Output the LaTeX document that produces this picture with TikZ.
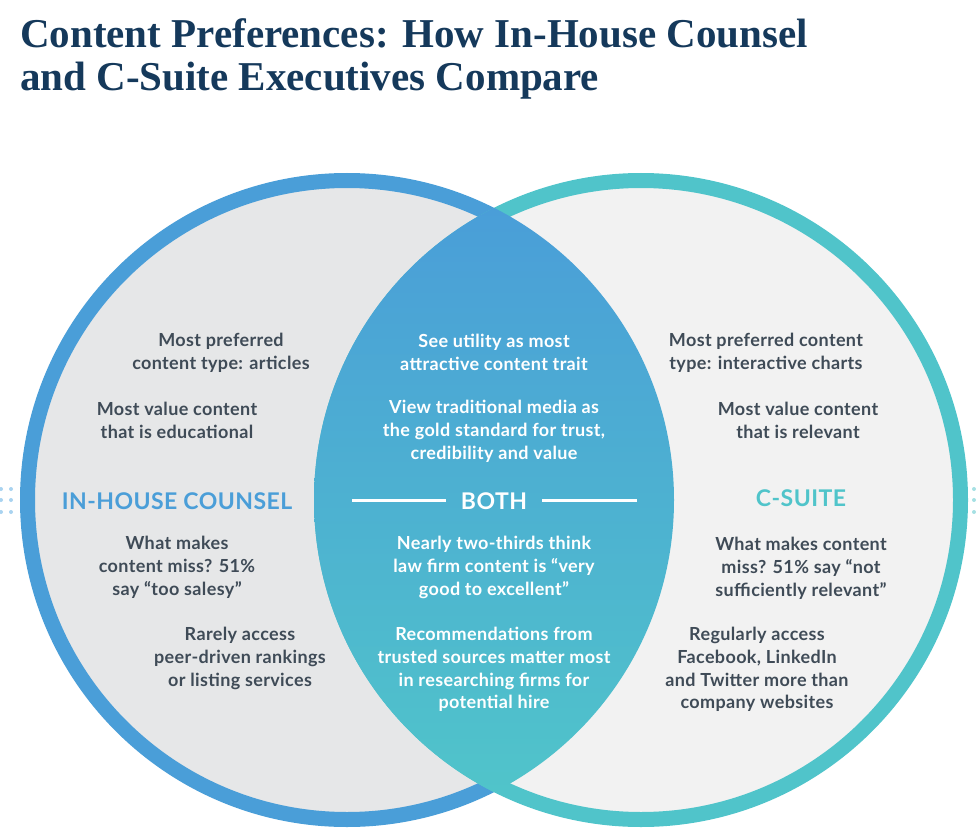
\documentclass[tikz,border=0pt]{standalone}
\usepackage{fontspec}
\setmainfont{Lato}
\newfontfamily\factfont[LetterSpace=2]{Lato}
\newfontfamily\titlefont{Liberation Serif}
\usetikzlibrary{positioning}

\definecolor{inhouse}{HTML}{4A9ED8}
\definecolor{csuite}{HTML}{50C4CA}
\definecolor{fillleft}{HTML}{E6E7E8}
\definecolor{fillright}{HTML}{F2F2F2}
\definecolor{factgray}{HTML}{3F4B57}
\definecolor{titlenavy}{HTML}{15395B}
\definecolor{dotleft}{HTML}{A9D3F0}
\definecolor{dotright}{HTML}{A6E0E3}

\tikzset{
  titletext/.style={anchor=base west, text=titlenavy, inner sep=0pt,
    font=\titlefont\fontsize{41}{46}\selectfont\bfseries},
  fact/.style={align=center, text=factgray, inner sep=0pt,
    font=\factfont\fontsize{18}{22.7}\selectfont\bfseries},
  bothfact/.style={fact, text=white},
  header/.style={inner sep=0pt, font=\factfont\fontsize{23}{27}\selectfont\bfseries},
  ring/.style={line width=15pt},
  bothline/.style={white, line width=3pt},
}

\begin{document}
\begin{tikzpicture}[x=1pt,y=-1pt]
\useasboundingbox (0,0) rectangle (980,840);

% Title
\node[titletext] (title1) at (20,48) {Content Preferences: How In-House Counsel};
\node[titletext] (title2) at (20,91) {and C-Suite Executives Compare};

% Two circles, ring width 15
\def\rad{319.5pt}
\filldraw[ring, fill=fillleft, draw=inhouse] (347,500) circle[radius=\rad];
\filldraw[ring, fill=fillright, draw=csuite] (641,500) circle[radius=\rad];

% Overlap, shaded blue to teal
\begin{scope}
  \clip (347,500) circle[radius=327pt];
  \clip (641,500) circle[radius=327pt];
  \shade[top color=inhouse, bottom color=csuite] (300,208) rectangle (690,792);
\end{scope}

% Dots at the edges
\foreach \y in {489,500,512} {
  \fill[dotleft] (1,\y) circle[radius=2pt];
  \fill[dotleft] (11,\y) circle[radius=2pt];
  \fill[dotright] (974,\y) circle[radius=2pt];
}

% In-house counsel
\node[fact] (left1) at (221,352.5) {Most preferred\\content type: articles};
\node[fact] (left2) at (177,420.5) {Most value content\\that is educational};
\node[header, text=inhouse] (counsel) at (177,501) {IN-HOUSE COUNSEL};
\node[fact] (left3) at (177,567.5) {What makes\\content miss? 51\%\\say “too salesy”};
\node[fact] (left4) at (240,658.5) {Rarely access\\peer-driven rankings\\or listing services};

% Both
\node[bothfact] (mid1) at (494,352.5) {See utility as most\\attractive content trait};
\node[bothfact] (mid2) at (494,431.5) {View traditional media as\\the gold standard for trust,\\credibility and value};
\node[header, text=white] (both) at (494,501) {BOTH};
\coordinate (bothL) at (352,500);
\coordinate (bothR) at (637,500);
\draw[bothline] (bothL) -- ([xshift=-15pt]both.west |- bothL);
\draw[bothline] (bothR) -- ([xshift=15pt]both.east |- bothR);
\node[bothfact] (mid3) at (494,567.5) {Nearly two-thirds think\\law firm content is “very\\good to excellent”};
\node[bothfact] (mid4) at (494,669.5) {Recommendations from\\trusted sources matter most\\in researching firms for\\potential hire};

% C-suite
\node[fact] (right1) at (766,352.5) {Most preferred content\\type: interactive charts};
\node[fact] (right2) at (798,420.5) {Most value content\\that is relevant};
\node[header, text=csuite] (csuite) at (801,498) {C-SUITE};
\node[fact] (right3) at (801,568.5) {What makes content\\miss? 51\% say “not\\sufficiently relevant”};
\node[fact] (right4) at (757,669.5) {Regularly access\\Facebook, LinkedIn\\and Twitter more than\\company websites};

\end{tikzpicture}
\end{document}
